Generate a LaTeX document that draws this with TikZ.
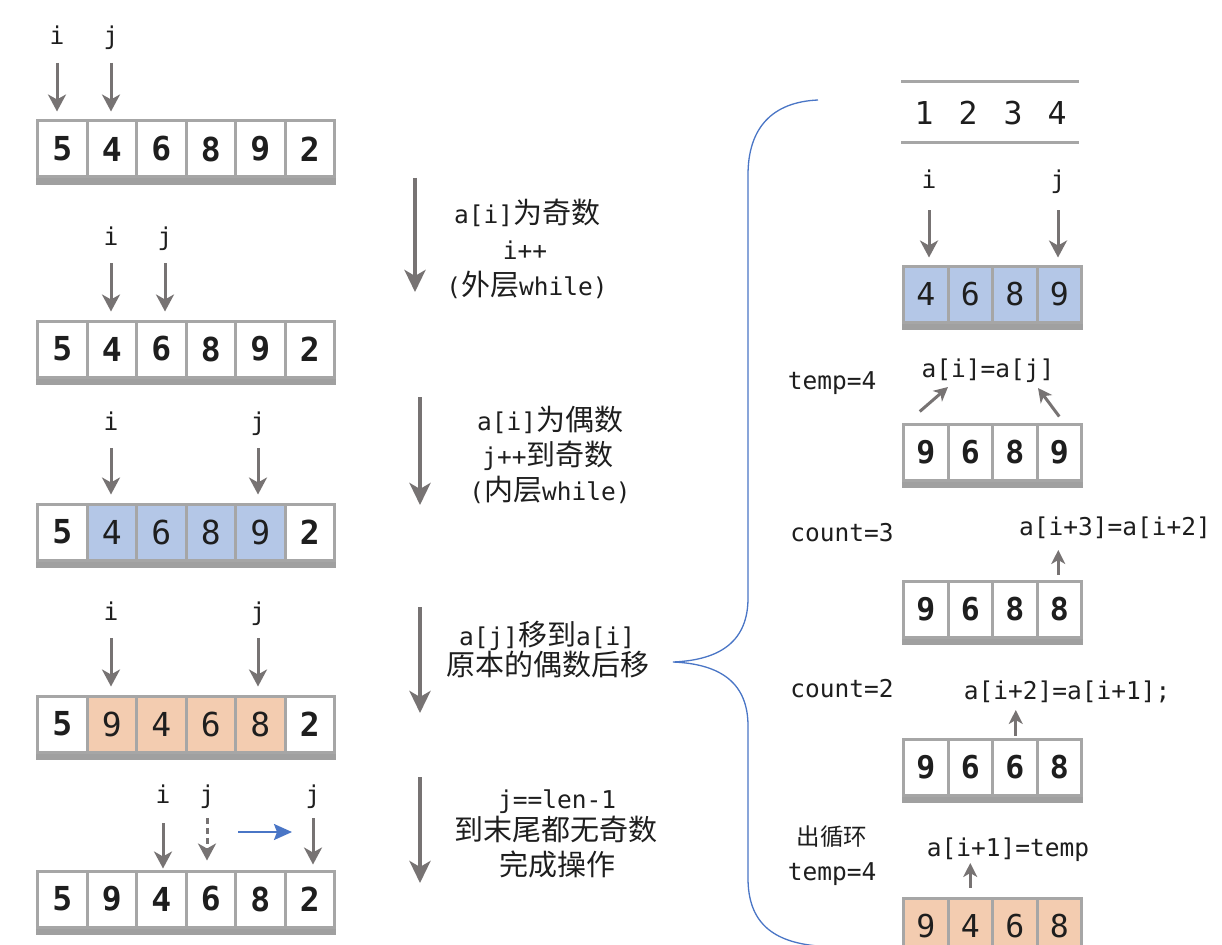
\documentclass[tikz,border=0pt]{standalone}
\usepackage{fontspec}
\setmainfont{DejaVu Sans}
\newfontfamily\monof{DejaVu Sans Mono}
\newfontfamily\cjkf{Noto Sans CJK SC}
\usetikzlibrary{arrows.meta,calc}
\definecolor{cellgray}{HTML}{A6A6A6}
\definecolor{bargray}{HTML}{A0A0A0}
\definecolor{arrgray}{HTML}{777373}
\definecolor{cblue}{HTML}{B4C7E7}
\definecolor{cpeach}{HTML}{F3CCB0}
\definecolor{bracec}{HTML}{4A76C6}
\definecolor{txt}{HTML}{1E1E1E}
\newcommand\ctxt[1]{{\cjkf\fontsize{29}{32}\selectfont #1}}
\newcommand\ctxtsmall[1]{{\cjkf\fontsize{23.5}{26}\selectfont #1}}
\tikzset{
  lab/.style={font=\monof\fontsize{24.5}{28}\selectfont, text=txt, anchor=base, inner sep=0pt},
  mt/.style={font=\monof\fontsize{24.5}{28}\selectfont, text=txt, anchor=base, inner sep=0pt},
  cell/.style={draw=cellgray, line width=3pt, minimum width=49.5pt, minimum height=56pt, inner sep=0pt, text=txt},
  rcell/.style={cell, minimum width=44.5pt},
  cb/.style={font=\monof\bfseries\fontsize{33}{36}\selectfont},
  cr/.style={font=\monof\fontsize{33}{36}\selectfont},
  rcb/.style={font=\monof\bfseries\fontsize{31.5}{34}\selectfont},
  rcr/.style={font=\monof\fontsize{31.5}{34}\selectfont},
  ptr/.style={draw=arrgray, line width=3pt, -{Stealth[length=17pt,width=18pt,inset=5pt]}},
  uparr/.style={draw=arrgray, line width=3pt, -{Stealth[length=14pt,width=14pt,inset=4pt]}},
  bigarr/.style={draw=arrgray, line width=4.5pt, -{Stealth[length=22pt,width=21pt,inset=6pt]}},
  bluearr/.style={draw=bracec, line width=2pt, -{Stealth[length=18pt,width=16pt,inset=3pt]}},
}
\newcommand\leftrow[3]{%
  \foreach \v/\f/\s [count=\k] in {#3} {
    \node[cell, fill=\f, \s] (#1c\k) at ({37.5+49.5*\k-24.75}, #2) {\v};
  }
  \fill[bargray] (#1c1.south west) rectangle ($(#1c6.south east)+(0,6)$);
}
\newcommand\rightrow[3]{%
  \foreach \v/\f/\s [count=\k] in {#3} {
    \node[rcell, fill=\f, \s] (#1c\k) at ({903.5+44.5*\k-22.25}, #2) {\v};
  }
  \fill[bargray] (#1c1.south west) rectangle ($(#1c4.south east)+(0,6)$);
}
\newcommand\ptrto[2]{\draw[ptr] ($(#1.base)+(0,18)$) -- ($(#1.base |- #2.north)+(0,-8)$);}
\begin{document}
\begin{tikzpicture}[x=1pt,y=-1pt]
\useasboundingbox (0,0) rectangle (1222,944);
\fill[white] (0,0) rectangle (1222,944);
\clip (0,0) rectangle (1222,944);

% ---------------- left arrays ----------------
\leftrow{A}{149}{5/white/cb,4/white/cb,6/white/cb,8/white/cb,9/white/cb,2/white/cb}
\leftrow{B}{349}{5/white/cb,4/white/cb,6/white/cb,8/white/cb,9/white/cb,2/white/cb}
\leftrow{C}{532}{5/white/cb,4/cblue/cr,6/cblue/cr,8/cblue/cr,9/cblue/cr,2/white/cb}
\leftrow{D}{724}{5/white/cb,9/cpeach/cr,4/cpeach/cr,6/cpeach/cr,8/cpeach/cr,2/white/cb}
\leftrow{E}{899}{5/white/cb,9/white/cb,4/white/cb,6/white/cb,8/white/cb,2/white/cb}

% labels and pointers
\node[lab] (iA) at (57,45) {i};
\node[lab] (jA) at (111,45) {j};
\ptrto{iA}{Ac1}\ptrto{jA}{Ac1}
\node[lab] (iB) at (111,245) {i};
\node[lab] (jB) at (165,245) {j};
\ptrto{iB}{Bc1}\ptrto{jB}{Bc1}
\node[lab] (iC) at (111,430) {i};
\node[lab] (jC) at (258,430) {j};
\ptrto{iC}{Cc1}\ptrto{jC}{Cc1}
\node[lab] (iD) at (111,620) {i};
\node[lab] (jD) at (258,620) {j};
\ptrto{iD}{Dc1}\ptrto{jD}{Dc1}
\node[lab] (iE) at (163,803) {i};
\node[lab] (jE) at (207,803) {j};
\node[lab] (kE) at (313,803) {j};
\draw[ptr] ($(iE.base)+(0,20)$) -- ($(iE.base |- Ec1.north)+(0,-1)$);
\draw[ptr, dash pattern=on 6pt off 4pt] ($(jE.base)+(0,15)$) -- ($(jE.base |- Ec1.north)+(0,-9)$);
\draw[ptr] ($(kE.base)+(0,15)$) -- ($(kE.base |- Ec1.north)+(0,-5)$);
\coordinate (bs) at (238,832);
\coordinate (be) at (292,832);
\draw[bluearr] (bs) -- (be);

% ---------------- middle ----------------
\coordinate (m1s) at (415,178); \coordinate (m1e) at (415,292);
\coordinate (m2s) at (420,397); \coordinate (m2e) at (420,505);
\coordinate (m3s) at (420,607); \coordinate (m3e) at (420,713);
\coordinate (m4s) at (420,777); \coordinate (m4e) at (420,883);
\draw[bigarr] (m1s) -- (m1e);
\draw[bigarr] (m2s) -- (m2e);
\draw[bigarr] (m3s) -- (m3e);
\draw[bigarr] (m4s) -- (m4e);

\node[mt] (t1a) at (527,223) {a[i]\ctxt{为奇数}};
\node[mt] (t1b) at (525,259) {i++};
\node[mt] (t1c) at (527,295) {(\ctxt{外层}while)};
\node[mt] (t2a) at (550,430) {a[i]\ctxt{为偶数}};
\node[mt] (t2b) at (548,465) {j++\ctxt{到奇数}};
\node[mt] (t2c) at (550,500) {(\ctxt{内层}while)};
\node[mt] (t3a) at (547,645) {a[j]\ctxt{移到}a[i]};
\node[mt] (t3b) at (548,675) {\ctxt{原本的偶数后移}};
\node[mt] (t4a) at (557,808) {j==len-1};
\node[mt] (t4b) at (556,840) {\ctxt{到末尾都无奇数}};
\node[mt] (t4c) at (557,875) {\ctxt{完成操作}};

% ---------------- brace ----------------
\draw[bracec, line width=1.3pt] (818,100) .. controls (772,102) and (748,128) .. (748,175)
  -- (748,598) .. controls (748,640) and (722,660) .. (673,662)
  .. controls (722,664) and (748,684) .. (748,726)
  -- (748,878) .. controls (748,922) and (772,942) .. (818,946);

% ---------------- right ----------------
\draw[cellgray, line width=3pt] (901,82) -- (1079,82);
\draw[cellgray, line width=3pt] (901,143) -- (1079,143);
\node[lab, font=\monof\fontsize{31.5}{34}\selectfont] (n1) at (924,125) {1};
\node[lab, font=\monof\fontsize{31.5}{34}\selectfont] (n2) at (968,125) {2};
\node[lab, font=\monof\fontsize{31.5}{34}\selectfont] (n3) at (1013,125) {3};
\node[lab, font=\monof\fontsize{31.5}{34}\selectfont] (n4) at (1057,125) {4};

\rightrow{R}{294}{4/cblue/rcr,6/cblue/rcr,8/cblue/rcr,9/cblue/rcr}
\rightrow{S}{452}{9/white/rcb,6/white/rcb,8/white/rcb,9/white/rcb}
\rightrow{T}{609}{9/white/rcb,6/white/rcb,8/white/rcb,8/white/rcb}
\rightrow{U}{767}{9/white/rcb,6/white/rcb,6/white/rcb,8/white/rcb}
\rightrow{V}{926}{9/cpeach/rcr,4/cpeach/rcr,6/cpeach/rcr,8/cpeach/rcr}

\node[lab] (iR) at (929,188) {i};
\node[lab] (jR) at (1058,188) {j};
\draw[ptr] ($(iR.base)+(0,22)$) -- ($(iR.base |- Rc1.north)+(0,-7)$);
\draw[ptr] ($(jR.base)+(0,22)$) -- ($(jR.base |- Rc1.north)+(0,-7)$);

\node[mt] (tp1) at (832,389) {temp=4};
\node[mt] (eq1) at (988,377) {a[i]=a[j]};
\draw[uparr] ($(Sc1.north)+(-6,-11)$) -- ($(eq1.base)+(-40,10)$);
\draw[uparr] ($(Sc4.north)+(0,-6)$) -- ($(eq1.base)+(50,11)$);

\node[mt] (cnt3) at (842,541) {count=3};
\node[mt] (eq2) at (1115,535) {a[i+3]=a[i+2]};
\draw[uparr] ($(Tc4.north)+(-1,-5)$) -- ($(Tc4.north |- eq2.base)+(-1,15)$);

\node[mt] (cnt2) at (842,697) {count=2};
\node[mt] (eq3) at (1067,699) {a[i+2]=a[i+1];};
\draw[uparr] ($(Uc3.north)+(1,-2)$) -- ($(Uc3.north |- eq3.base)+(1,11)$);

\node[mt] (ex) at (832,845) {\ctxtsmall{出循环}};
\node[mt] (tp2) at (832,880) {temp=4};
\node[mt] (eq4) at (1008,856) {a[i+1]=temp};
\draw[uparr] ($(Vc2.north)+(0,-9)$) -- ($(Vc2.north |- eq4.base)+(0,7)$);
\end{tikzpicture}
\end{document}
